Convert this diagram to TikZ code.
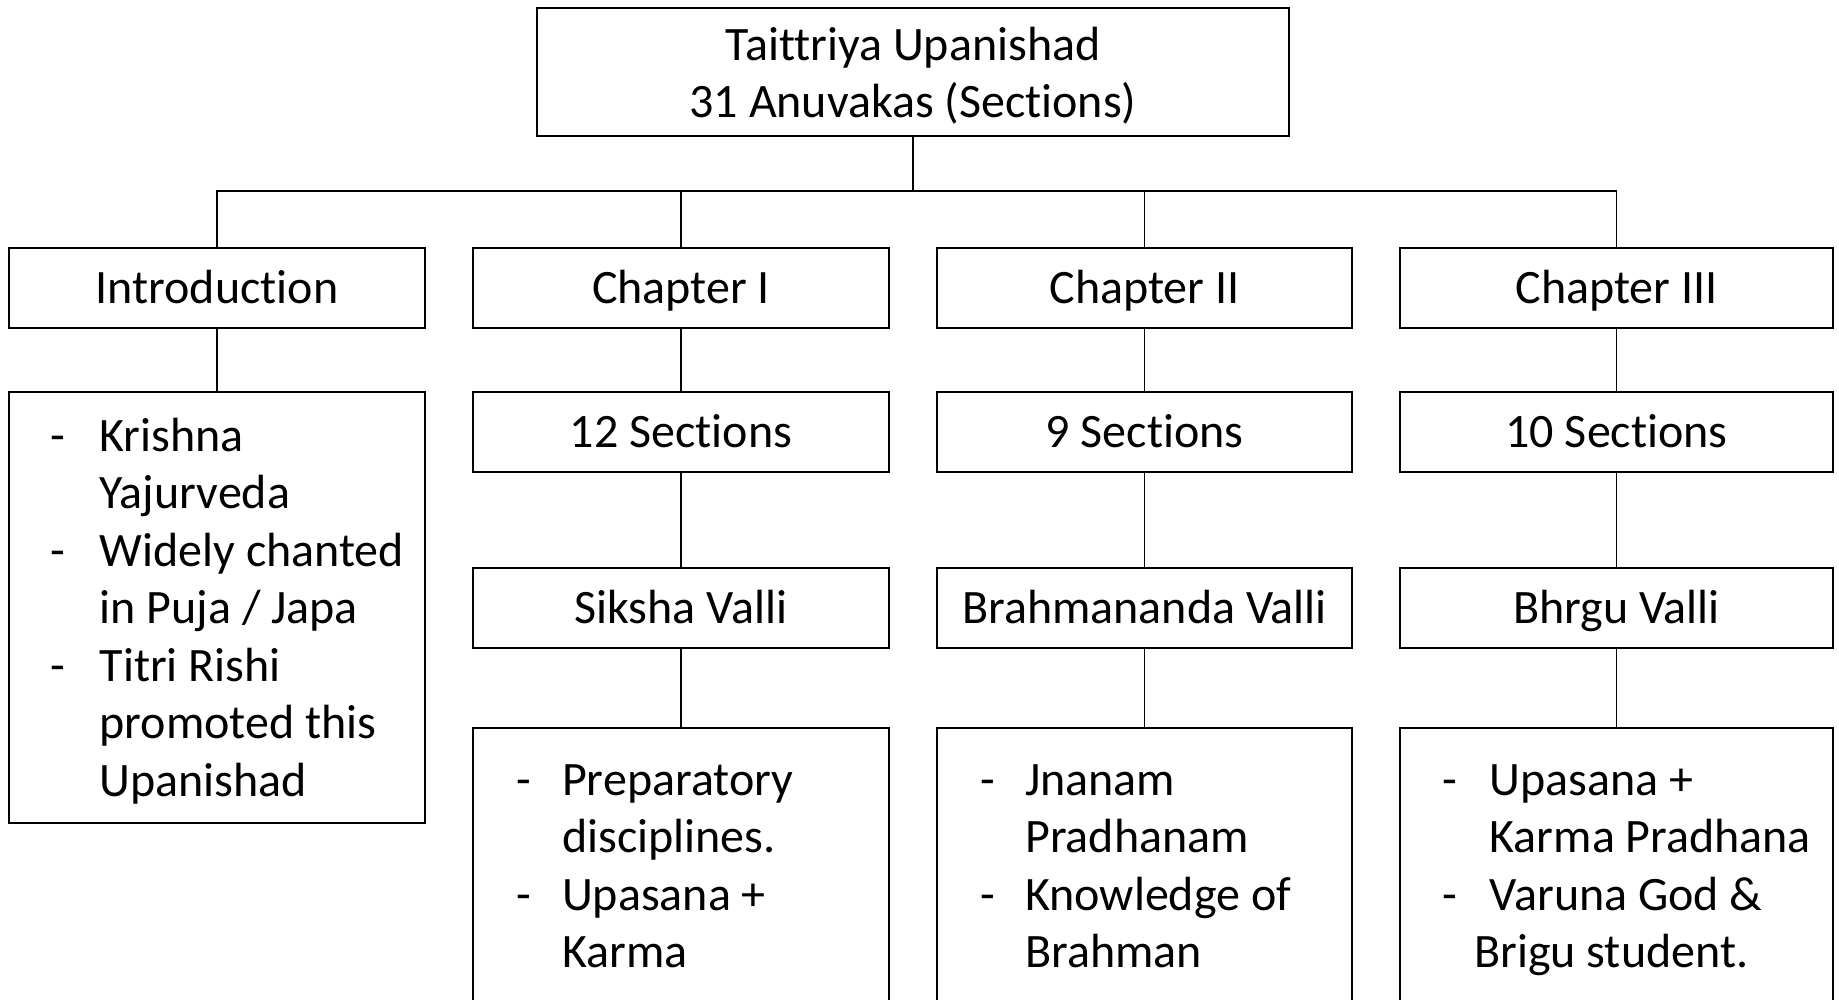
\documentclass[tikz,border=0pt]{standalone}
\usepackage{fontspec}
\setmainfont{Carlito}[Ligatures=NoCommon]
\usepackage{array}

\begin{document}
\begin{tikzpicture}[x=1pt,y=-1pt,
	box/.style={draw,line width=2pt,rectangle,inner sep=0pt,font=\fontsize{48}{57.5}\selectfont,text height=30pt,text depth=0pt,minimum height=80pt,minimum width=416pt},
	link/.style={line width=1.2pt},
	bullets/.style={inner sep=0pt,anchor=north west,font=\fontsize{48}{57.5}\selectfont}]
	\useasboundingbox (0,0) rectangle (1839,999);
	\clip (0,0) rectangle (1839,999);
	
	\node[box,minimum width=752pt,minimum height=128pt,text height=40pt,text depth=64pt] (top) at (913,72) {\begin{tabular}[t]{@{}c@{}}Taittriya Upanishad\\31 Anuvakas (Sections)\end{tabular}};
	
	\node[box] (intro) at (217,288) {Introduction};
	\node[box] (chone) at (681,288) {Chapter I};
	\node[box,minimum width=415pt] (chtwo) at (1144.5,288) {Chapter II};
	\node[box,minimum width=433pt] (chthree) at (1616.5,288) {Chapter III};
	
	\node[box,minimum height=431pt] (introbox) at (217,607.5) {};
	\node[box] (secone) at (681,432) {12 Sections};
	\node[box,minimum width=415pt] (sectwo) at (1144.5,432) {9 Sections};
	\node[box,minimum width=433pt] (secthree) at (1616.5,432) {10 Sections};
	
	\node[box] (valone) at (681,608) {Siksha Valli};
	\node[box,minimum width=415pt] (valtwo) at (1144.5,608) {Brahmananda Valli};
	\node[box,minimum width=433pt] (valthree) at (1616.5,608) {Bhrgu Valli};
	
	\node[box,minimum height=302pt] (noteone) at (681,879) {};
	\node[box,minimum width=415pt,minimum height=302pt] (notetwo) at (1144.5,879) {};
	\node[box,minimum width=433pt,minimum height=302pt] (notethree) at (1616.5,879) {};
	
	% bullet texts
	\node[bullets] (introtext) at (50,411) {\begin{tabular}{@{}p{49.5pt}@{}l@{}}
		-&Krishna\\ &Yajurveda\\ -&Widely chanted\\ &in Puja / Japa\\ -&Titri Rishi\\ &promoted this\\ &Upanishad\end{tabular}};
	\node[bullets] (noteonetext) at (516.5,755) {\begin{tabular}{@{}p{45.5pt}@{}l@{}}
		-&Preparatory\\ &disciplines.\\ -&Upasana +\\ &Karma\end{tabular}};
	\node[bullets] (notetwotext) at (980,755) {\begin{tabular}{@{}p{45pt}@{}l@{}}
		-&Jnanam\\ &Pradhanam\\ -&Knowledge of\\ &Brahman\end{tabular}};
	\node[bullets] (notethreetext) at (1442,755) {\begin{tabular}{@{}p{47.5pt}@{}l@{}}
		-&Upasana +\\ &Karma Pradhana\\ -&Varuna God \&\\ &\hspace*{-15.5pt}Brigu student.\end{tabular}};
	
	% connectors
	\coordinate (bar) at (913,191);
	\draw[link] (top.south) -- (bar);
	\foreach \n in {intro,chone,chtwo,chthree}
		\draw[link] (bar) -| (\n.north);
	\foreach \a/\b in {intro/introbox,chone/secone,secone/valone,valone/noteone,chtwo/sectwo,sectwo/valtwo,valtwo/notetwo,chthree/secthree,secthree/valthree,valthree/notethree}
		\draw[link] (\a) -- (\b);
\end{tikzpicture}
\end{document}
